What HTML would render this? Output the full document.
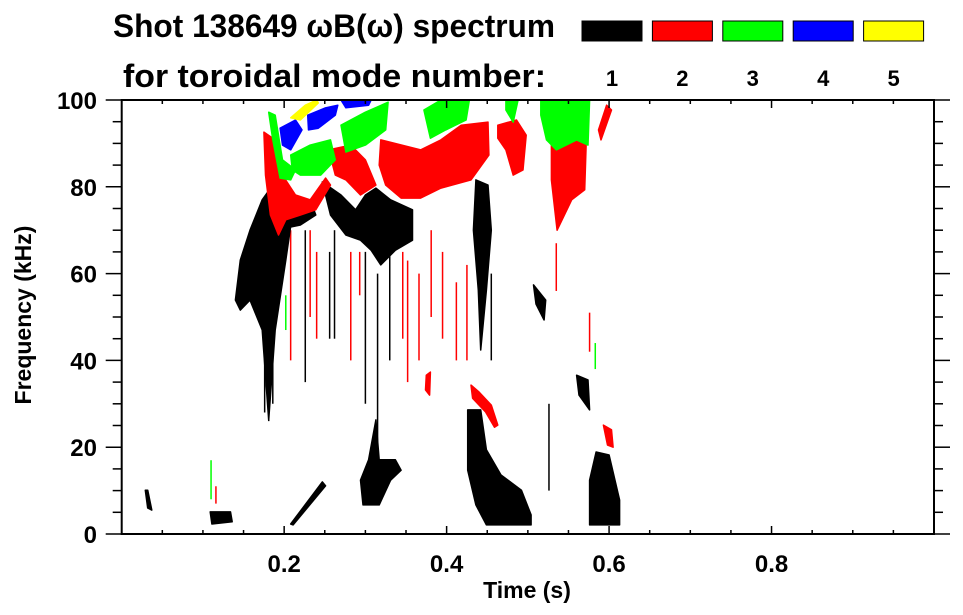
<!DOCTYPE html>
<html><head><meta charset="utf-8">
<style>
html,body{margin:0;padding:0;background:#fff;}
svg{display:block;font-family:"Liberation Sans",sans-serif;font-weight:bold;}
</style></head>
<body>
<svg id="chart" width="963" height="615" viewBox="0 0 963 615" xmlns="http://www.w3.org/2000/svg">
  <text x="113" y="37" font-size="32" textLength="442" lengthAdjust="spacingAndGlyphs">Shot 138649 ωB(ω) spectrum</text>
  <text x="123" y="87" font-size="32" textLength="423" lengthAdjust="spacingAndGlyphs">for toroidal mode number:</text>
  <g id="legend"></g>
  <g id="marks"></g>
  <g id="axes"></g>
  <text x="527" y="598" font-size="23" text-anchor="middle">Time (s)</text>
  <text transform="translate(31,315) rotate(-90)" font-size="23" text-anchor="middle">Frequency (kHz)</text>
</svg>
<script>
// ---- data ----
const modeLabels = ["1","2","3","4","5"];
const modeColors = ["#000000","#ff0000","#00ff00","#0000ff","#ffff00"];
const xTicks = [0.2,0.4,0.6,0.8];
const yTicks = [0,20,40,60,80,100];
// blob modes and outline points (time s, freq kHz)
const blobModes = [1,1,1,1,1,1,1,1,1,1,1,1, 2,2,2,2,2,2,2,2,2, 3,3,3,3,3,3, 4,4,4, 5];
const blobPoints = [
 [0.140,53.9,0.146,63.1,0.158,70.0,0.173,77.0,0.186,80.4,0.202,79.3,0.210,73.5,0.202,63.1,0.189,47.0,0.181,26.3,0.173,47.0,0.158,53.9,0.146,51.6],
 [0.195,73.5,0.214,75.8,0.232,77.0,0.239,73.5,0.220,71.2,0.202,70.5],
 [0.247,81.1,0.270,78.1,0.288,74.7,0.300,78.1,0.313,79.7,0.331,77.0,0.358,74.7,0.358,67.7,0.337,65.4,0.319,62.0,0.307,65.4,0.294,67.7,0.276,68.9,0.257,73.5],
 [0.436,81.6,0.451,80.4,0.455,70.0,0.449,56.2,0.442,42.4,0.439,56.2,0.433,70.0],
 [0.507,57.4,0.522,53.9,0.520,49.3,0.510,53.0],
 [0.426,28.6,0.442,28.6,0.449,19.4,0.467,13.6,0.492,10.1,0.504,4.4,0.504,2.1,0.449,2.1,0.436,6.7,0.426,14.7],
 [0.584,18.9,0.600,18.2,0.613,7.8,0.613,2.1,0.576,2.1,0.576,12.4],
 [0.313,26.3,0.317,17.1,0.337,17.1,0.344,14.7,0.331,12.4,0.317,6.7,0.297,6.7,0.294,12.4,0.304,17.1],
 [0.208,2.3,0.247,12.0,0.251,11.1,0.211,2.1],
 [0.109,5.1,0.134,5.1,0.136,2.8,0.111,2.3],
 [0.560,36.6,0.574,35.5,0.576,28.6,0.563,32.0],
 [0.029,10.1,0.032,10.1,0.037,5.5,0.032,6.0],
 [0.175,92.6,0.189,90.8,0.198,82.7,0.214,78.1,0.232,77.0,0.251,82.0,0.257,80.4,0.239,74.7,0.220,73.5,0.202,72.4,0.193,68.9,0.183,73.5,0.177,82.7],
 [0.255,88.5,0.282,89.6,0.300,86.2,0.313,80.4,0.294,78.1,0.276,81.6,0.263,82.7],
 [0.319,90.8,0.368,88.5,0.393,90.8,0.418,94.2,0.451,94.9,0.452,87.3,0.430,81.6,0.393,79.7,0.368,77.4,0.344,77.4,0.325,80.4,0.317,85.0],
 [0.463,94.2,0.486,95.4,0.498,91.9,0.494,83.9,0.482,82.7,0.473,88.5,0.463,91.2],
 [0.529,90.8,0.560,91.9,0.572,90.8,0.570,79.3,0.554,77.0,0.536,70.0,0.529,81.6],
 [0.597,98.8,0.603,97.7,0.590,90.8,0.587,93.1],
 [0.430,34.3,0.440,32.7,0.455,29.7,0.463,25.1,0.459,24.6,0.448,28.1,0.432,31.3],
 [0.593,25.1,0.603,24.0,0.605,20.0,0.598,20.5],
 [0.375,36.6,0.380,37.3,0.379,32.0,0.374,33.2],
 [0.181,97.2,0.189,96.5,0.198,86.2,0.214,83.9,0.208,81.6,0.195,82.0,0.186,90.8],
 [0.208,87.3,0.232,89.6,0.257,90.8,0.263,86.2,0.245,82.7,0.220,82.7,0.210,83.9],
 [0.270,94.2,0.300,97.2,0.328,99.5,0.325,93.1,0.300,89.6,0.276,88.0],
 [0.372,97.7,0.393,100,0.428,100,0.424,95.4,0.399,93.1,0.380,91.2],
 [0.516,100,0.576,100,0.574,89.6,0.560,90.8,0.535,88.5,0.523,90.8,0.516,96.5],
 [0.473,100,0.488,100,0.482,94.9,0.473,97.7],
 [0.195,93.5,0.214,95.4,0.222,93.1,0.208,88.5,0.198,89.6],
 [0.229,96.5,0.251,98.2,0.266,98.8,0.263,96.5,0.242,93.5,0.230,93.1],
 [0.270,100,0.307,100,0.304,98.8,0.276,98.2],
 [0.208,95.9,0.226,98.8,0.240,100,0.242,99.3,0.220,95.4]
];
// vertical streaks: time, fLow, fHigh, mode
const streakT = [0.176,0.181,0.186,0.226,0.256,0.262,0.300,0.315,0.330,0.455,0.526,0.183,0.208,0.232,0.240,0.282,0.293,0.346,0.352,0.366,0.381,0.395,0.412,0.425,0.535,0.576,0.202,0.583,0.110,0.116];
const streakLo = [28,26,30,35,45,45,30,20,40,40,10,35,40,50,45,40,55,45,35,40,50,45,40,40,56,42,47,38,8,7];
const streakHi = [70,75,65,70,65,70,65,60,65,60,30,65,70,70,65,65,65,65,63,60,70,65,58,62,67,51,55,44,17,11];
const streakMode = [1,1,1,1,1,1,1,1,1,1,1,2,2,2,2,2,2,2,2,2,2,2,2,2,2,2,3,3,3,2];

// ---- scales ----
const X0=121.7, X1=934, Y0=534, Y1=100;
function xs(t){return X0+(t-0)/(1-0)*(X1-X0);}
function ys(f){return Y0-(f-0)/(100-0)*(Y0-Y1);}
const NS="http://www.w3.org/2000/svg";
function mk(tag,attrs,parent){const e=document.createElementNS(NS,tag);for(const k in attrs)e.setAttribute(k,attrs[k]);parent.appendChild(e);return e;}

const marks=document.getElementById('marks');
streakT.forEach((t,i)=>{
  const l=mk('line',{x1:xs(t),x2:xs(t),y1:ys(streakLo[i]),y2:ys(streakHi[i]),stroke:modeColors[streakMode[i]-1],'stroke-width':1.5},marks);
  
  
});
blobPoints.forEach((pts,i)=>{
  let s=[];
  for(let k=0;k<pts.length;k+=2)s.push(xs(pts[k]).toFixed(1)+','+ys(pts[k+1]).toFixed(1));
  const p=mk('polygon',{points:s.join(' '),fill:modeColors[blobModes[i]-1],stroke:modeColors[blobModes[i]-1],'stroke-width':1.5,'stroke-linejoin':'round'},marks);
  
  
});

// ---- legend ----
const lg=document.getElementById('legend');
modeLabels.forEach((m,i)=>{
  const x=582+i*70.4;
  const r=mk('rect',{x:x,y:21,width:60,height:20,fill:modeColors[i],stroke:'#000','stroke-width':1},lg);
  
  
  const t=mk('text',{x:x+30,y:86,'font-size':22,'text-anchor':'middle'},lg);
  t.textContent=m;
  
  
});

// ---- axes ----
const ax=document.getElementById('axes');
const frame=mk('rect',{x:X0,y:Y1,width:X1-X0,height:Y0-Y1,fill:'none',stroke:'#000','stroke-width':2},ax);


for(let k=1;k<20;k++){
  const t=k*0.05, x=xs(t), maj=(k%4===0);
  const L=maj?8:4;
  const b=mk('line',{x1:x,x2:x,y1:Y0,y2:Y0-L,stroke:'#000','stroke-width':1.5},ax);
  
  
  const tp=mk('line',{x1:x,x2:x,y1:Y1,y2:Y1+L,stroke:'#000','stroke-width':1.5},ax);
  
  
}
xTicks.forEach(v=>{
  const t=mk('text',{x:xs(v),y:572,'font-size':24,'text-anchor':'middle'},ax);
  t.textContent=v.toFixed(1);
  
  
});
for(let k=0;k<=20;k++){
  const f=k*5, y=ys(f), maj=(k%4===0);
  const L=maj?16:9;
  const a=mk('line',{x1:X0,x2:X0-L,y1:y,y2:y,stroke:'#000','stroke-width':1.5},ax);
  
  
  const r=mk('line',{x1:X1,x2:X1+L,y1:y,y2:y,stroke:'#000','stroke-width':1.5},ax);
  
  
}
yTicks.forEach(v=>{
  const t=mk('text',{x:97,y:ys(v)+9,'font-size':24,'text-anchor':'end'},ax);
  t.textContent=String(v);
  
  
});
</script>
</body></html>
